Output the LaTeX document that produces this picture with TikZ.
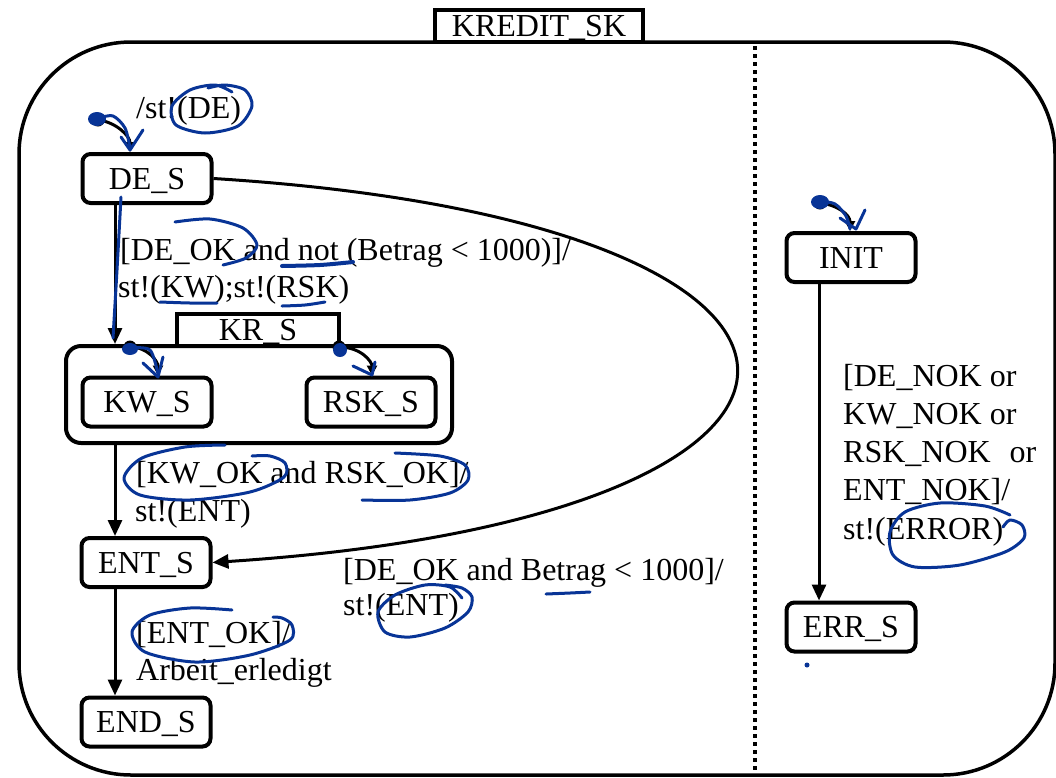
\documentclass[tikz,border=0pt]{standalone}
\usepackage{fontspec}
\setmainfont{Liberation Serif}
\usetikzlibrary{arrows.meta}
\definecolor{ink}{RGB}{8,52,150}

\begin{document}
\begin{tikzpicture}[x=1pt,y=-1pt,
  font=\fontsize{32}{38}\selectfont,
  state/.style={draw, line width=4pt, rounded corners=8pt, minimum width=129pt,
    minimum height=49pt, inner sep=0pt, text height=21pt, text depth=0pt},
  tab/.style={draw, line width=3.5pt, fill=white, inner sep=0pt, minimum height=32pt,
    text height=21pt, text depth=0pt},
  lbl/.style={anchor=base west, inner sep=0pt},
  arr/.style={line width=3pt, -{Triangle[length=16pt,width=14pt]}},
  initarr/.style={line width=3pt, -{Triangle[length=10pt,width=10pt]}},
  startdot/.style={circle, fill, inner sep=0pt, minimum size=13pt},
  pen/.style={draw=ink, line width=3pt, line cap=round, line join=round},
]
\useasboundingbox (0,0) rectangle (1056,777);

% outer superstate and its concurrency separator
\draw[line width=3.5pt, rounded corners=112pt] (19,42) rectangle (1055,775);
\draw[line width=4pt, dash pattern=on 4pt off 4pt] (755,46) -- (755,777);
\node[tab, minimum width=208pt] (kredit) at (539,26) {KREDIT\_SK};

% composite state KR_S
\node[draw, line width=4pt, rounded corners=15pt, minimum width=386pt,
  minimum height=97pt] (KR) at (259,394.5) {};
\node[tab, minimum width=162pt] (krtab) at (258,330) {KR\_S};

% simple states
\node[state] (DE)   at (147,178.5) {DE\_S};
\node[state] (KW)   at (147,402)   {KW\_S};
\node[state] (RSK)  at (371,402)   {RSK\_S};
\node[state] (ENT)  at (146,562.5) {ENT\_S};
\node[state] (END)  at (146,722)   {END\_S};
\node[state] (INIT) at (851,257.5) {INIT};
\node[state] (ERR)  at (851,627)   {ERR\_S};

% columns of the vertical transitions
\coordinate (lx) at (115,0);
\coordinate (rx) at (819,0);

% transitions
\draw[arr] (DE.south -| lx) -- (KR.north -| lx);
\draw[arr] (KR.south -| lx) -- (ENT.north -| lx);
\draw[arr] (ENT.south -| lx) -- (END.north -| lx);
\draw[arr] (INIT.south -| rx) -- (ERR.north -| rx);
\draw[arr] (DE.east) .. controls (910,222) and (910,517) .. (ENT.east);

% initial pseudo-states
\node[startdot] (i1) at (98,120) {};
\node[startdot] (i2) at (130,347) {};
\node[startdot] (i3) at (339,347) {};
\node[startdot] (i4) at (820,203) {};
\draw[initarr] (i1.center) .. controls +(18,2) and +(0,-16) .. ([xshift=-17pt]DE.north);
\draw[initarr] (i2.center) .. controls +(18,0) and +(0,-14) .. ([xshift=11pt]KW.north);
\draw[initarr] (i3.center) .. controls +(22,0) and +(0,-14) .. ([xshift=1pt]RSK.north);
\draw[initarr] (i4.center) .. controls +(18,2) and +(0,-16) .. ([xshift=-1pt]INIT.north);

% transition labels
\node[lbl] (l0)  at (136,118) {/st!(DE)};
\node[lbl] (l1a) at (120,260) {[DE\_OK and not (Betrag < 1000)]/};
\node[lbl] (l1b) at (118,297) {st!(KW);st!(RSK)};
\node[lbl] (l2a) at (136,483) {[KW\_OK and RSK\_OK]/};
\node[lbl] (l2b) at (135,521) {st!(ENT)};
\node[lbl] (l3a) at (343,580) {[DE\_OK and Betrag < 1000]/};
\node[lbl] (l3b) at (343,615) {st!(ENT)};
\node[lbl] (l4a) at (136,643) {[ENT\_OK]/};
\node[lbl] (l4b) at (136,680) {Arbeit\_erledigt};
\node[lbl] (r1) at (843,386) {[DE\_NOK or};
\node[lbl] (r2) at (843,424) {KW\_NOK or};
\node[lbl] (r3) at (843,462) {RSK\_NOK\hspace{19pt}or};
\node[lbl] (r4) at (843,500) {ENT\_NOK]/};
\node[lbl] (r5) at (843,539) {st!(ERROR)};

% pen marks
\fill[ink] (97,119) ellipse (9 and 7);
\draw[pen] plot[smooth] coordinates {(98,118) (113,116) (125,128) (130,148)};
\draw[pen] plot coordinates {(121,137) (130,150) (143,130)};
\draw[pen] plot[smooth] coordinates {(121,197) (117,270) (113,338)};
\fill[ink] (130,349) ellipse (8 and 6);
\draw[pen] plot[smooth] coordinates {(130,348) (150,350) (158,374)};
\draw[pen] plot coordinates {(143,363) (158,377) (163,357)};
\fill[ink] (340,350) ellipse (7 and 7);
\draw[pen] plot coordinates {(353,366) (372,375) (375,362)};
\fill[ink] (820,202) ellipse (9 and 7);
\draw[pen] plot[smooth] coordinates {(820,201) (835,204) (846,216) (850,229)};
\draw[pen] plot coordinates {(840,218) (856,229) (865,210)};

\draw[pen] plot[smooth] coordinates {(232,92) (215,85) (190,90) (172,106) (176,125)
  (205,133) (238,126) (252,106) (245,90) (225,85) (208,88)};
\draw[pen] plot[smooth] coordinates {(175,222) (210,219) (243,228) (257,245) (246,258) (223,265)};
\draw[pen, line width=4pt] plot[smooth] coordinates {(282,266) (320,265) (353,262)};
\draw[pen] plot[smooth] coordinates {(160,302) (190,303) (217,303)};
\draw[pen] plot[smooth] coordinates {(282,306) (305,305) (325,302)};
\draw[pen] plot[smooth] coordinates {(225,445) (185,447) (142,458) (124,478) (140,495)
  (190,500) (250,492) (284,477) (285,463) (270,456) (252,456)};
\draw[pen] plot[smooth] coordinates {(395,453) (440,456) (465,465) (468,480) (450,493)
  (410,500) (362,500)};
\draw[pen] plot[smooth] coordinates {(462,598) (450,587) (425,585) (395,595) (378,612)
  (385,632) (410,637) (445,628) (468,612) (472,597) (462,588) (445,585)};
\draw[pen] plot[smooth] coordinates {(546,594) (570,593) (590,592)};
\draw[pen] plot[smooth] coordinates {(232,610) (190,608) (150,615) (132,632) (145,652)
  (195,662) (250,655) (290,640) (292,625) (282,618) (273,617)};
\draw[pen] plot[smooth] coordinates {(1003,527) (1010,520) (1022,525) (1024,538) (1005,552)
  (960,565) (915,567) (893,555) (890,532) (905,512) (940,503) (985,506) (1010,515)};
\fill[ink] (807,665) circle (2.5);
\end{tikzpicture}
\end{document}
